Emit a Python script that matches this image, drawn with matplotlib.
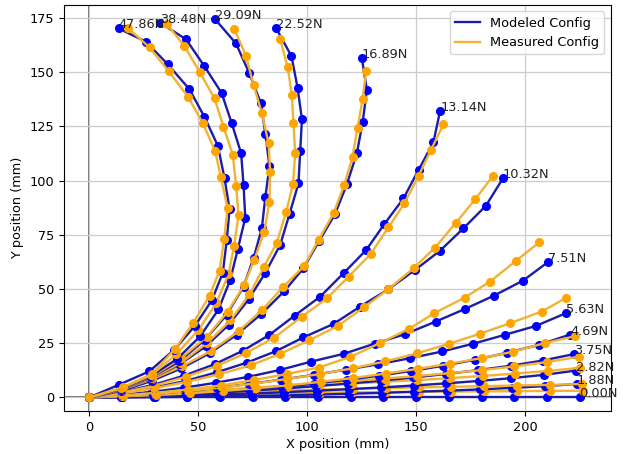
import matplotlib
matplotlib.use('Agg')
import matplotlib.pyplot as plt

# Tip loads (N) applied to the beam, one curve pair per load
loads = [0.00, 1.88, 2.82, 3.75, 4.69, 5.63, 7.51, 10.32, 13.14, 16.89, 22.52, 29.09, 38.48, 47.86]

# Modeled node positions (mm), base node first
model_x = [
    [0, 15, 30, 45, 60, 75, 90, 105, 120, 135, 150, 165, 180, 195, 210, 225],
    [0, 14.9, 29.9, 44.8, 59.7, 74.6, 89.5, 104.4, 119.3, 134.2, 149.2, 164.1, 179.1, 194.0, 208.9, 223.8],
    [0, 14.9, 29.8, 44.7, 59.6, 74.5, 89.4, 104.3, 119.2, 134.1, 149.0, 163.9, 178.8, 193.7, 208.6, 223.4],
    [0, 14.8, 29.7, 44.5, 59.3, 74.2, 89.1, 104.0, 118.9, 133.8, 148.7, 163.6, 178.5, 193.3, 208.0, 222.5],
    [0, 14.6, 29.2, 43.9, 58.7, 73.5, 88.4, 103.2, 118.1, 132.9, 147.7, 162.4, 177.1, 191.7, 206.2, 220.6],
    [0, 14.6, 29.2, 43.9, 58.6, 73.4, 88.2, 103.0, 117.8, 132.6, 147.3, 162.0, 176.3, 190.8, 205.0, 218.6],
    [0, 14.5, 29.0, 43.6, 58.3, 73.0, 87.6, 101.8, 116.7, 131.0, 145.0, 159.0, 172.4, 185.8, 199.1, 210.7],
    [0, 14.8, 29.6, 44.2, 58.5, 72.2, 85.6, 98.3, 112.1, 124.3, 137.3, 149.5, 161.0, 171.7, 182.0, 189.8],
    [0, 14.8, 29.4, 43.7, 57.5, 70.4, 82.6, 94.2, 106.0, 116.7, 127.1, 135.3, 144.2, 151.1, 157.9, 161.0],
    [0, 14.5, 28.6, 42.2, 55.3, 67.6, 79.0, 89.5, 98.3, 105.6, 112.8, 118.2, 122.8, 125.5, 127.4, 125.1],
    [0, 14.4, 28.3, 41.4, 53.4, 64.0, 73.1, 80.7, 87.6, 91.9, 96.0, 96.8, 97.6, 95.6, 92.8, 85.8],
    [0, 14.5, 28.4, 41.4, 52.9, 63.0, 70.8, 75.4, 79.2, 80.8, 82.7, 80.8, 78.7, 73.4, 67.3, 57.8],
    [0, 14.4, 28.1, 40.5, 51.0, 59.3, 64.7, 68.2, 71.6, 70.8, 69.7, 65.4, 60.7, 52.8, 44.5, 32.6],
    [0, 13.5, 27.5, 39.0, 48.5, 56.3, 61.3, 63.1, 64.4, 62.1, 59.0, 52.8, 46.0, 36.1, 26.1, 13.5],
]
model_y = [
    [0, 0, 0, 0, 0, 0, 0, 0, 0, 0, 0, 0, 0, 0, 0, 0],
    [0, 0.0, 0.1, 0.3, 0.5, 0.7, 1.0, 1.3, 1.7, 2.1, 2.6, 3.1, 3.7, 4.4, 5.2, 6.2],
    [0, 0.1, 0.4, 0.8, 1.3, 1.8, 2.4, 3.1, 3.8, 4.6, 5.5, 6.5, 7.6, 8.9, 10.4, 12.4],
    [0, 0.3, 0.8, 1.4, 2.2, 3.1, 4.1, 5.2, 6.4, 7.7, 9.2, 10.8, 12.6, 14.6, 17.0, 20.0],
    [0, 0.4, 1.0, 1.7, 2.6, 3.7, 4.9, 6.4, 8.1, 10.0, 12.2, 14.6, 17.4, 20.6, 24.2, 29.0],
    [0, 0.7, 1.6, 2.8, 4.4, 6.2, 8.2, 10.4, 12.8, 15.3, 18.1, 21.2, 24.8, 28.9, 33.0, 38.8],
    [0, 1.2, 2.6, 4.5, 6.8, 9.5, 12.7, 16.5, 20.1, 24.8, 29.2, 35.0, 40.8, 47.0, 53.9, 62.6],
    [0, 2.0, 4.5, 7.6, 11.6, 16.0, 21.3, 27.7, 33.9, 41.9, 49.9, 58.8, 67.7, 78.0, 88.4, 101.0],
    [0, 2.4, 5.8, 10.1, 15.3, 21.5, 28.8, 37.7, 46.5, 57.3, 68.0, 79.8, 91.8, 104.9, 117.6, 132.2],
    [0, 3.0, 7.6, 13.4, 20.4, 28.9, 38.5, 49.0, 59.6, 72.3, 84.6, 98.3, 112.6, 127.2, 141.8, 156.4],
    [0, 3.7, 8.6, 15.2, 23.5, 33.5, 45.2, 57.3, 70.3, 84.6, 98.7, 113.6, 128.3, 142.8, 157.4, 170.2],
    [0, 3.6, 9.2, 16.7, 26.4, 38.0, 51.1, 64.2, 78.0, 92.3, 106.7, 121.6, 135.8, 149.7, 163.3, 174.4],
    [0, 3.9, 9.7, 17.9, 28.3, 40.6, 54.2, 68.5, 82.9, 98.0, 112.6, 126.4, 140.5, 152.8, 165.1, 172.8],
    [0, 5.8, 12.0, 22.0, 33.0, 44.9, 57.5, 72.6, 86.7, 101.0, 116.1, 129.5, 142.1, 153.6, 164.0, 170.2],
]

# Measured node positions (mm) from the tracked markers
meas_x = [
    [0, 15.2, 30.3, 45.4, 60.5, 75.6, 90.7, 105.8, 120.9, 136.0, 151.1, 166.2, 181.3, 196.4, 211.5, 226.6],
    [0, 15.2, 30.3, 45.4, 60.5, 75.6, 90.7, 105.8, 120.9, 136.0, 151.1, 166.2, 181.2, 196.2, 211.2, 226.2],
    [0, 15.2, 30.3, 45.4, 60.5, 75.6, 90.6, 105.6, 120.6, 135.6, 150.6, 165.6, 180.5, 195.4, 210.3, 225.0],
    [0, 15.2, 30.3, 45.4, 60.5, 75.6, 90.6, 105.6, 120.6, 135.6, 150.5, 165.4, 180.3, 195.1, 209.9, 224.9],
    [0, 15.4, 30.8, 46.1, 61.3, 76.4, 91.4, 106.3, 121.2, 136.0, 150.8, 165.6, 180.3, 194.6, 209.2, 222.8],
    [0, 15.1, 30.3, 45.5, 60.7, 75.8, 90.8, 105.8, 120.8, 135.7, 150.3, 165.2, 179.4, 193.0, 207.6, 218.6],
    [0, 15.0, 30.1, 45.2, 60.3, 75.5, 90.7, 105.3, 119.6, 133.2, 146.7, 158.2, 172.2, 183.9, 195.8, 206.5],
    [0, 14.9, 29.8, 44.8, 59.5, 74.0, 87.6, 100.8, 114.1, 126.1, 137.3, 148.8, 158.7, 168.3, 177.1, 185.2],
    [0, 14.8, 29.6, 44.2, 58.5, 72.0, 84.9, 97.5, 109.1, 119.0, 129.2, 137.3, 144.6, 151.1, 156.8, 162.5],
    [0, 14.4, 28.6, 42.5, 56.0, 68.5, 79.5, 89.1, 98.6, 105.2, 112.1, 117.0, 120.8, 123.1, 125.4, 127.1],
    [0, 14.4, 28.6, 42.0, 54.0, 64.8, 73.5, 80.2, 86.1, 90.4, 93.5, 94.5, 93.7, 93.0, 91.0, 87.6],
    [0, 14.6, 29.0, 42.0, 54.0, 63.5, 71.1, 75.7, 80.3, 82.7, 83.0, 82.3, 79.2, 75.4, 71.9, 66.5],
    [0, 14.6, 28.5, 40.0, 50.0, 58.3, 63.9, 66.5, 68.5, 67.4, 65.9, 61.6, 57.5, 50.6, 43.6, 35.6],
    [0, 15.4, 28.7, 39.5, 47.8, 55.2, 59.8, 61.9, 63.5, 60.4, 57.8, 52.0, 45.3, 36.4, 27.7, 18.0],
]
meas_y = [
    [0, 0.6, 1.0, 1.3, 1.5, 1.8, 2.0, 2.2, 2.4, 2.5, 2.6, 2.7, 2.8, 2.9, 3.0, 3.1],
    [0, 0.7, 1.3, 1.8, 2.3, 2.8, 3.2, 3.6, 4.0, 4.3, 4.6, 4.9, 5.2, 5.5, 5.8, 6.2],
    [0, 0.8, 1.6, 2.4, 3.2, 4.0, 4.8, 5.6, 6.4, 7.2, 8.0, 8.9, 9.9, 11.0, 12.2, 13.6],
    [0, 0.8, 1.7, 2.6, 3.5, 4.5, 5.5, 6.5, 7.6, 8.7, 9.9, 11.2, 12.6, 14.3, 16.3, 18.8],
    [0, 0.5, 1.1, 1.9, 3.0, 4.2, 5.6, 7.2, 9.0, 11.0, 13.2, 15.6, 18.2, 21.1, 25.1, 28.2],
    [0, 0.6, 1.6, 3.0, 4.6, 6.4, 8.5, 10.8, 13.4, 16.6, 20.3, 24.8, 29.4, 34.2, 39.6, 45.8],
    [0, 0.9, 2.1, 3.6, 5.5, 8.0, 10.8, 13.8, 18.6, 25.0, 31.6, 38.8, 46.0, 53.4, 63.0, 71.5],
    [0, 1.8, 4.2, 7.2, 10.6, 14.8, 20.1, 26.3, 33.0, 41.6, 49.9, 59.6, 69.1, 80.6, 91.4, 102.1],
    [0, 2.2, 5.3, 9.5, 14.5, 20.5, 27.6, 37.2, 45.7, 55.7, 66.2, 78.5, 89.5, 102.1, 114.1, 126.0],
    [0, 3.4, 8.3, 14.3, 21.5, 30.5, 40.5, 51.1, 60.6, 72.6, 84.9, 98.0, 111.0, 124.1, 137.5, 150.7],
    [0, 3.6, 8.8, 16.0, 25.0, 35.5, 47.5, 60.3, 71.4, 85.7, 98.4, 112.6, 126.4, 139.5, 152.5, 165.3],
    [0, 3.8, 9.8, 18.0, 28.0, 39.5, 51.9, 63.4, 76.4, 90.3, 104.1, 117.2, 131.1, 144.1, 157.6, 170.0],
    [0, 4.2, 10.3, 20.0, 31.0, 43.4, 56.8, 70.0, 84.1, 97.5, 111.8, 124.9, 137.9, 150.2, 162.2, 172.2],
    [0, 4.7, 10.8, 22.5, 34.5, 46.8, 58.5, 72.9, 87.2, 101.5, 113.6, 126.7, 138.7, 150.5, 161.4, 170.2],
]

model_line = '#1c1ca6'
model_dot = '#0000ff'
meas_line = '#f2b233'
meas_dot = '#ffa500'

plt.rcParams['font.size'] = 9.3

fig = plt.figure(figsize=(6.23, 4.54), dpi=100)
ax = fig.add_axes([0.103, 0.095, 0.877, 0.894])

ax.axhline(0, color='#555555', lw=1.2, zorder=0)
ax.axvline(0, color='#555555', lw=1.2, zorder=0)

for i, load in enumerate(loads):
    # modeled shape: line + node markers
    ax.plot(model_x[i], model_y[i], '-', color=model_line, lw=1.7,
            label='Modeled Config' if i == 0 else None)
    ax.plot(model_x[i], model_y[i], 'o', color=model_dot, ms=5.5)
    # measured shape
    ax.plot(meas_x[i], meas_y[i], '-', color=meas_line, lw=1.7,
            label='Measured Config' if i == 0 else None)
    ax.plot(meas_x[i], meas_y[i], 'o', color=meas_dot, ms=5.5)
    # load label at the modeled tip
    ax.text(model_x[i][-1], model_y[i][-1], f'{load:.2f}N', fontsize=9.3, color='#222222')

ax.set_xlim(-11.5, 239.2)
ax.set_ylim(-6.2, 181.0)
ax.set_xticks([0, 50, 100, 150, 200])
ax.set_yticks([0, 25, 50, 75, 100, 125, 150, 175])
ax.grid(True, color='#cccccc', lw=0.9)
ax.set_axisbelow(True)
ax.set_xlabel('X position (mm)', labelpad=3)
ax.set_ylabel('Y position (mm)')
ax.legend(loc='upper right', handlelength=1.9)

fig.savefig('out.png', dpi=100)
